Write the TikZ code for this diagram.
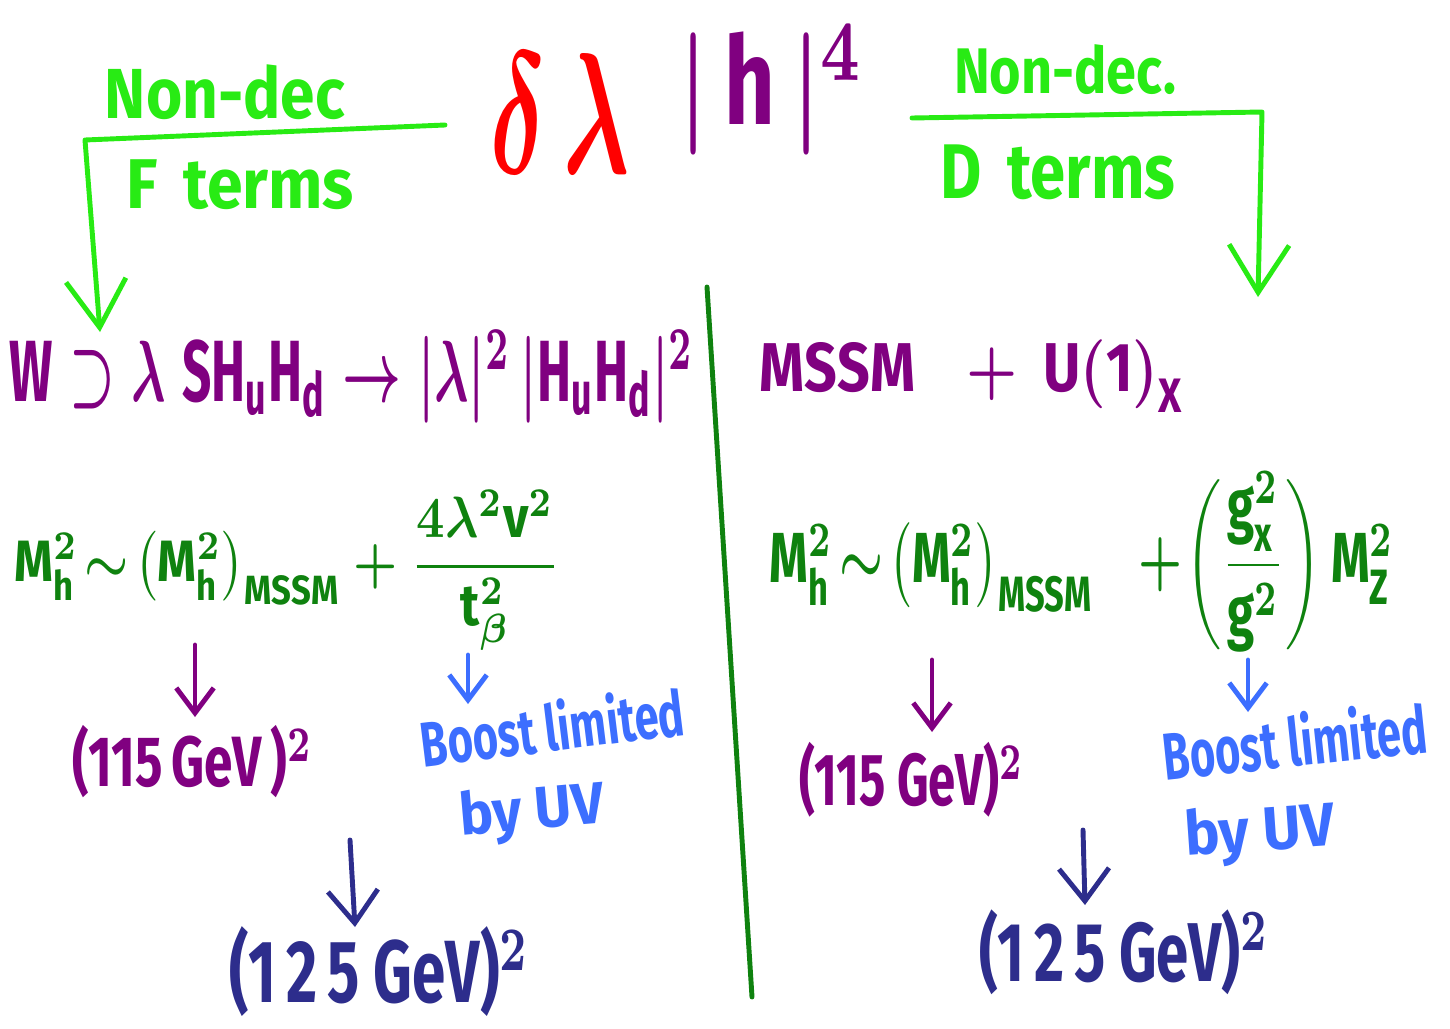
\documentclass[tikz,border=0pt]{standalone}
\usepackage{amsmath}
\usepackage{fontspec}
\setmainfont{Fira Sans}
\usepackage{graphicx}
\usetikzlibrary{arrows.meta}
\definecolor{cLime}{RGB}{40,235,20}
\definecolor{cPurple}{RGB}{128,0,128}
\definecolor{cDGreen}{RGB}{15,130,15}
\definecolor{cBlue}{RGB}{60,110,255}
\definecolor{cNavy}{RGB}{45,45,140}
\definecolor{cRed}{RGB}{255,0,0}
\newcommand{\tx}[1]{\mathrm{#1}}
\newcommand{\fb}[3]{\resizebox*{#1}{#2}{#3}}
\begin{document}
\begin{tikzpicture}[x=0.02cm,y=-0.02cm,
  every node/.style={inner sep=0pt,font=\bfseries\boldmath},
  pen/.style={line width=2.8pt,line cap=round,line join=round},
  bigtip/.style={-{Straight Barb[length=0.95cm,width=1.2cm]}},
  midtip/.style={-{Straight Barb[length=0.65cm,width=1.0cm]}},
  smalltip/.style={-{Straight Barb[length=0.5cm,width=0.75cm]}}]
\useasboundingbox[fill=white] (0,0) rectangle (1450,1028);

% top
\node[text=cRed] (dl) at (560,113) {\fb{2.8cm}{2.4cm}{$\delta\,\lambda$}};
\node[text=cPurple] (hh) at (772,90) {\fb{3.7cm}{2.6cm}{$|\,\tx{h}\,|^{4}$}};
\node[text=cLime] (ndl) at (225,92) {\fb{4.8cm}{1.1cm}{Non-dec}};
\node[text=cLime] (ftl) at (240,185) {\fb{4.56cm}{1.0cm}{F\, terms}};
\node[text=cLime] (ndr) at (1065,70) {\fb{4.44cm}{1.0cm}{Non-dec.}};
\node[text=cLime] (dtr) at (1058,172) {\fb{4.7cm}{1.1cm}{D\, terms}};

\coordinate (ls) at (445,125);
\coordinate (lc) at (85,140);
\coordinate (le) at (100,332);
\coordinate (rs) at (912,118);
\coordinate (rc) at (1262,112);
\coordinate (re) at (1258,297);
\draw[pen,cLime,bigtip] (ls) -- (lc) -- (le);
\draw[pen,cLime,bigtip] (rs) -- (rc) -- (re);

% divider
\coordinate (dvt) at (707,287);
\coordinate (dvb) at (752,997);
\draw[pen,cDGreen] (dvt) -- (dvb);

% row 2
\node[text=cPurple] (wrow) at (352,377) {\fb{13.7cm}{1.85cm}{$\tx{W}\supset\lambda\;\tx{SH}_{\tx{u}}\tx{H}_{\tx{d}}\rightarrow|\lambda|^{2}\,|\tx{H}_{\tx{u}}\tx{H}_{\tx{d}}|^{2}$}};
\node[text=cPurple] (mssm) at (972,376) {\fb{8.5cm}{1.45cm}{$\tx{MSSM}\;\;+\,\tx{U(1)}_{\tx{X}}$}};

% formulas
\node[text=cDGreen] (fl) at (287,570) {\fb{10.9cm}{3.2cm}{$\tx{M}^{2}_{\tx{h}}\!\sim\!\left(\tx{M}^{2}_{\tx{h}}\right)_{\tx{MSSM}}+\dfrac{4\lambda^{2}\tx{v}^{2}}{\tx{t}^{2}_{\beta}}$}};
\node[text=cDGreen] (fr) at (1082,562) {\fb{12.5cm}{3.6cm}{$\tx{M}^{2}_{\tx{h}}\!\sim\!\left(\tx{M}^{2}_{\tx{h}}\right)_{\tx{MSSM}}\;\;+\!\left(\dfrac{\tx{g}^{2}_{\tx{x}}}{\tx{g}^{2}}\right)\tx{M}^{2}_{\tx{Z}}$}};

% results left
\node[text=cPurple] (l115) at (193,762) {\fb{4.8cm}{1.45cm}{(115\,GeV\,)$^{2}$}};
\node[text=cBlue,rotate=7] (lboost1) at (552,726) {\fb{5.3cm}{1.05cm}{Boost limited}};
\node[text=cBlue,rotate=5] (lboost2) at (532,813) {\fb{2.9cm}{1.15cm}{by UV}};
\node[text=cNavy] (l125) at (380,972) {\fb{6cm}{1.8cm}{(1\,2\,5 GeV)$^{2}$}};

% results right
\node[text=cPurple] (r115) at (912,780) {\fb{4.5cm}{1.5cm}{(115 GeV)$^{2}$}};
\node[text=cBlue,rotate=6] (rboost1) at (1295,740) {\fb{5.3cm}{1.1cm}{Boost limited}};
\node[text=cBlue,rotate=4] (rboost2) at (1260,834) {\fb{3.0cm}{1.2cm}{by UV}};
\node[text=cNavy] (r125) at (1125,952) {\fb{5.8cm}{1.7cm}{(1\,2\,5 GeV)$^{2}$}};

% arrows
\coordinate (a1) at (195,645);
\coordinate (a2) at (468,655);
\coordinate (a3) at (350,840);
\coordinate (a4) at (932,660);
\coordinate (a5) at (1248,660);
\coordinate (a6) at (1083,830);
\draw[pen,cPurple,smalltip] (a1) -- (195,717);
\draw[pen,cBlue,smalltip] (a2) -- (468,704);
\draw[pen,cNavy,midtip] (a3) -- (355,927);
\draw[pen,cPurple,smalltip] (a4) -- (932,732);
\draw[pen,cBlue,smalltip] (a5) -- (1248,712);
\draw[pen,cNavy,midtip] (a6) -- (1085,905);
\end{tikzpicture}
\end{document}
